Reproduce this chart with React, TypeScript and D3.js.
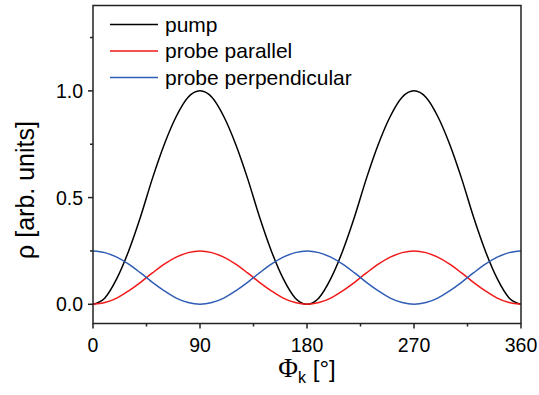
import React from "react";
import * as d3 from "d3";

const angles = [0,10,20,30,40,50,60,70,80,90,100,110,120,130,140,150,160,170,180,190,200,210,220,230,240,250,260,270,280,290,300,310,320,330,340,350,360];
const pump = [0,0.03,0.12,0.25,0.41,0.59,0.75,0.88,0.97,1.0,0.97,0.88,0.75,0.59,0.41,0.25,0.12,0.03,0,0.03,0.12,0.25,0.41,0.59,0.75,0.88,0.97,1.0,0.97,0.88,0.75,0.59,0.41,0.25,0.12,0.03,0];
const probeParallel = [0,0.008,0.029,0.063,0.103,0.147,0.188,0.221,0.242,0.25,0.242,0.221,0.188,0.147,0.103,0.063,0.029,0.008,0,0.008,0.029,0.063,0.103,0.147,0.188,0.221,0.242,0.25,0.242,0.221,0.188,0.147,0.103,0.063,0.029,0.008,0];
const probePerpendicular = [0.25,0.242,0.221,0.188,0.147,0.103,0.063,0.029,0.008,0,0.008,0.029,0.063,0.103,0.147,0.188,0.221,0.242,0.25,0.242,0.221,0.188,0.147,0.103,0.063,0.029,0.008,0,0.008,0.029,0.063,0.103,0.147,0.188,0.221,0.242,0.25];
const seriesNames = ["pump", "probe parallel", "probe perpendicular"];
const seriesColors = ["#000000", "#f01818", "#2f5db5"];
const xTicks = [0, 90, 180, 270, 360];
const xMinor = [45, 135, 225, 315];
const yTicks = [0, 0.5, 1.0];
const yMinor = [0.25, 0.75, 1.25];

export default function App() {
  const W = 539, H = 395;
  const left = 93, right = 521, top = 5.5, bottom = 323.5;
  const x = d3.scaleLinear().domain([0, 360]).range([left, right]);
  const y = d3.scaleLinear().domain([-0.09, 1.4]).range([bottom, top]);
  const allSeries = [pump, probeParallel, probePerpendicular];
  const line = d3.line<number>().x((_, i) => x(angles[i])).y(d => y(d)).curve(d3.curveMonotoneX);
  const font = "Arial, 'Liberation Sans', sans-serif";
  const axisColor = "#222";
  return (
    <svg width={W} height={H} style={{ position: "absolute", left: 0, top: 0, background: "#fff" }}>
      {allSeries.map((s, k) => (
        <path key={k} d={line(s) || ""} fill="none" stroke={seriesColors[k]} strokeWidth={1.5} />
      ))}
      <rect x={left} y={top} width={right - left} height={bottom - top} fill="none" stroke={axisColor} strokeWidth={1.5} />
      {xTicks.map(t => (
        <g key={"xt" + t}>
          <line x1={x(t)} x2={x(t)} y1={bottom} y2={bottom + 5} stroke={axisColor} strokeWidth={1.5} />
          <text x={x(t)} y={bottom + 28} textAnchor="middle" fontFamily={font} fontSize={19.5}>{t}</text>
        </g>
      ))}
      {xMinor.map(t => (
        <line key={"xm" + t} x1={x(t)} x2={x(t)} y1={bottom} y2={bottom + 3} stroke={axisColor} strokeWidth={1.5} />
      ))}
      {yTicks.map(t => (
        <g key={"yt" + t}>
          <line x1={left - 5} x2={left} y1={y(t)} y2={y(t)} stroke={axisColor} strokeWidth={1.5} />
          <text x={left - 10} y={y(t) + 7} textAnchor="end" fontFamily={font} fontSize={19.5}>{t.toFixed(1)}</text>
        </g>
      ))}
      {yMinor.map(t => (
        <line key={"ym" + t} x1={left - 3} x2={left} y1={y(t)} y2={y(t)} stroke={axisColor} strokeWidth={1.5} />
      ))}
      {seriesNames.map((n, k) => (
        <g key={"lg" + k}>
          <line x1={110} x2={158} y1={24.5 + k * 26.5} y2={24.5 + k * 26.5} stroke={seriesColors[k]} strokeWidth={1.5} />
          <text x={165} y={24.5 + k * 26.5 + 7} fontFamily={font} fontSize={21}>{n}</text>
        </g>
      ))}
      <text x={(left + right) / 2} y={377} textAnchor="middle" fontFamily={font} fontSize={24}>
        <tspan fontFamily="'Liberation Serif', 'DejaVu Serif', serif" fontSize={27}>Φ</tspan>
        <tspan fontSize={16} dy={6}>k</tspan>
        <tspan dy={-6}> [°]</tspan>
      </text>
      <text transform={`translate(34, 190) rotate(-90)`} textAnchor="middle" fontFamily={font} fontSize={25}>ρ [arb. units]</text>
    </svg>
  );
}
